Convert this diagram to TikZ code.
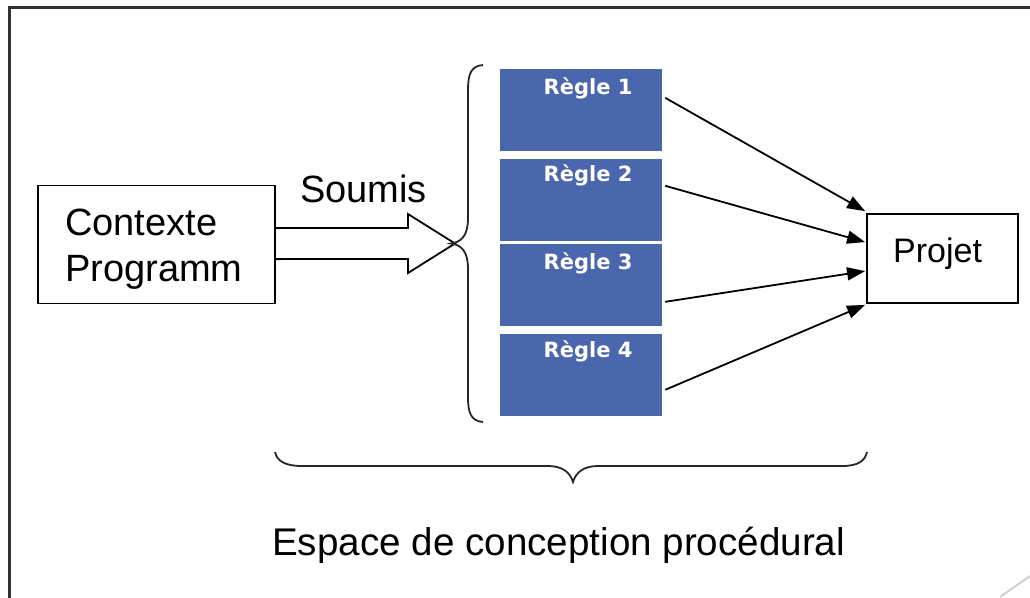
\documentclass[tikz,border=0pt]{standalone}
\usepackage{fontspec}
\setmainfont{Liberation Sans}
\newfontfamily\rulefont{DejaVu Sans}
\usetikzlibrary{arrows.meta,calc}
\definecolor{ruleblue}{RGB}{74,102,172}
\definecolor{framegray}{RGB}{50,50,50}
\begin{document}
\begin{tikzpicture}[x=1pt,y=-1pt,
  bigtext/.style={inner sep=0pt, font=\fontsize{38}{44}\selectfont},
  boxline/.style={draw=black, line width=1.8pt},
  rulebox/.style={fill=ruleblue, draw=none, minimum width=162pt, minimum height=82pt, inner sep=0pt},
  rulelabel/.style={inner sep=0pt, text=white, font=\rulefont\bfseries\fontsize{21}{25}\selectfont},
  arr/.style={line width=1.8pt, -{Triangle[length=18pt,width=13pt]}},
  bracestyle/.style={line width=1.8pt, draw=black!85}
]
\useasboundingbox (0,0) rectangle (1030,597);
% outer frame
\draw[framegray, line width=3pt] (9,600) -- (9,7) -- (1033,7);
\draw[black!18, line width=2pt] (1000,597) -- (1030,576);

% Contexte box
\node[boxline, minimum width=237pt, minimum height=118pt, inner sep=0pt] (ctx) at (156.5,244.5) {};
\node[bigtext, anchor=base west] (ctxa) at (65,235) {Contexte};
\node[bigtext, anchor=base west] (ctxb) at (65,281) {Programm};

% Soumis
\node[bigtext, anchor=base west] (soumis) at (300,202) {Soumis};

% hollow arrow
\coordinate (ha1) at ($(ctx.north east)+(0,43.5)$);
\coordinate (ha2) at ($(ctx.north east)+(0,74.5)$);
\draw[line width=1.8pt, line join=miter] (ha1) -- (408,228) -- (408,214) -- (455,243.5) -- (408,273) -- (408,259) -- (ha2);

% left brace
\draw[bracestyle] (483,65) .. controls (471,66) and (468,74) .. (468,90) -- (468,218)
  .. controls (468,235) and (462,242) .. (451,243.5)
  .. controls (462,245) and (468,252) .. (468,269) -- (468,397)
  .. controls (468,413) and (471,421) .. (483,422);

% rule boxes
\node[rulebox] (r1) at (581,110) {};
\node[rulebox] (r2) at (581,200) {};
\node[rulebox] (r3) at (581,285) {};
\node[rulebox] (r4) at (581,375) {};
\node[rulelabel, anchor=base] (t1) at (588,94) {Règle 1};
\node[rulelabel, anchor=base] (t2) at (588,181) {Règle 2};
\node[rulelabel, anchor=base] (t3) at (588,269) {Règle 3};
\node[rulelabel, anchor=base] (t4) at (588,357) {Règle 4};

% Projet
\node[boxline, minimum width=151pt, minimum height=89pt, inner sep=0pt] (proj) at (942.5,258.5) {};
\node[inner sep=0pt, font=\fontsize{34}{40}\selectfont, anchor=base west] (projt) at (893,262) {Projet};

% arrows
\draw[arr] ($(r1.north east)+(3,29)$) -- ($(proj.north west)+(-1,-2)$);
\draw[arr] ($(r2.north east)+(3,27)$) -- ($(proj.north west)+(-1,29)$);
\draw[arr] ($(r3.north east)+(3,58)$) -- ($(proj.north west)+(-1,58)$);
\draw[arr] ($(r4.north east)+(3,56)$) -- ($(proj.south west)+(-1,1)$);

% bottom brace
\draw[bracestyle] (275,452) .. controls (277,461) and (285,466) .. (302,466) -- (548,466)
  .. controls (562,466) and (570,472) .. (573,482)
  .. controls (576,472) and (584,466) .. (598,466) -- (842,466)
  .. controls (858,466) and (865,461) .. (867,452);

\node[inner sep=0pt, font=\fontsize{38.6}{44}\selectfont, anchor=base west] (esp) at (272,555) {Espace de conception procédural};
\end{tikzpicture}
\end{document}
